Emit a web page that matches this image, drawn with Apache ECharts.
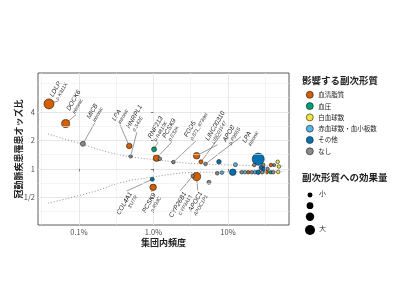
<!DOCTYPE html>
<html>
<head>
<meta charset="utf-8">
<script src="https://cdn.jsdelivr.net/npm/echarts@6/dist/echarts.min.js"></script>
<style>html,body{margin:0;padding:0;background:#fff}#chart{width:400px;height:300px}</style>
</head>
<body>
<div id="chart"></div>
<script>
var chart = echarts.init(document.getElementById('chart'));

var groups = ['血清脂質', '血圧', '白血球数', '赤血球数・血小板数', 'その他', 'なし'];
var groupColors = ['#D55E00', '#009E73', '#F0E442', '#56B4E9', '#0072B2', '#8a8a8a'];

// 集団内頻度(%), オッズ比, 副次形質への効果量(0-1), 影響する副次形質
var freq = [0.0396, 0.0663, 0.113, 0.473, 0.494, 1.02, 1.10, 1.22, 1.85, 3.8, 4.34, 5.0,
    7.57, 12.6, 22.5, 25.5, 28.3, 30.0, 37.8, 41.7, 46.5, 48.4, 30.5, 34.0,
    7.18, 8.3, 11.6, 15.3, 16.9, 18.7, 20.8, 23.0, 25.5, 28.9, 33.1, 37.4, 40.5, 47.3,
    5.56, 0.964, 0.99, 3.36, 3.8];
var odds = [4.86, 3.01, 1.84, 1.75, 1.36, 1.61, 1.30, 1.28, 1.18, 1.38, 1.19, 1.13,
    1.19, 1.11, 1.10, 1.27, 1.03, 1.10, 1.10, 1.10, 1.19, 1.06, 1.00, 1.00,
    0.90, 0.914, 0.923, 0.923, 0.923, 0.923, 0.923, 0.923, 0.923, 0.923, 0.923, 0.923, 0.923, 0.93,
    0.723, 0.778, 0.64, 0.843, 0.83];
var effect = [0.78, 0.56, 0.22, 0.28, 0.06, 0.22, 0.39, 0.06, 0.06, 0.39, 0.11, 0.06,
    0.17, 0.11, 0.06, 1.0, 0.22, 0.06, 0.06, 0.0, 0.06, 0.06, 0.11, 0.06,
    0.06, 0.06, 0.39, 0.06, 0.06, 0.06, 0.06, 0.06, 0.17, 0.06, 0.06, 0.06, 0.06, 0.06,
    0.11, 0.11, 0.39, 0.06, 0.56];
var group = [0, 0, 5, 0, 5, 1, 0, 5, 5, 0, 0, 5,
    4, 3, 5, 4, 4, 5, 0, 5, 2, 2, 4, 5,
    5, 3, 4, 5, 3, 0, 5, 3, 4, 5, 0, 1, 5, 2,
    5, 4, 0, 5, 0];
var gene = ['LDLR', 'DOCK6', 'MICB', 'LPA', 'HNRPL1', 'RNF213', 'PCSK9', '', 'FGD5', 'LINC00310', 'APOB', 'LPA'];
var variant = ['p.K811X', 'intronic', 'intronic', 'intronic', 'p.S42E', 'p.R4810K', 'p.E32K', '', 'p.871_873del', 'LINC01547', 'p.P955S', 'intronic'];
gene[39] = 'COL4A1'; variant[39] = "3'UTR";
gene[40] = 'PCSK9'; variant[40] = 'p.R93C';
gene[41] = 'CYP26B1'; variant[41] = 'CYP3A13';
gene[42] = 'APOC1'; variant[42] = 'APOC1P1';

// 有意水準の目安 (点線)
var upperFreq = [0.0384, 0.106, 0.25, 0.485, 1.10, 4.2, 58];
var upperOdds = [2.34, 1.84, 1.50, 1.35, 1.245, 1.13, 1.075];
var lowerFreq = [0.0384, 0.156, 0.355, 0.897, 3.09, 58];
var lowerOdds = [0.435, 0.575, 0.712, 0.813, 0.914, 0.941];

var xTickFreq = [0.1, 1, 10];
var xTickText = ['0.1%', '1.0%', '10%'];
var yTickOdds = [0.5, 1, 2, 4];
var yTickText = ['1/2', '1', '2', '4'];
var xMinorFreq = [0.0316, 0.316, 3.16, 31.6];
var yMinorOdds = [0.354, 0.707, 1.414, 2.83, 5.66, 8];

var sizeLegendEffect = [0.22, 0.42, 0.6, 0.78];
var sizeLegendText = ['小', '', '', '大'];

// ラベル位置 (点からのずれ px)
var labelPlace = {
    0: [5, -6, 'up'], 1: [5, -12, 'up'], 2: [8, -24, 'up'], 3: [-13, -24, 'up'],
    4: [0, -27, 'up'], 5: [-2, -10, 'up'], 6: [10, -19, 'up'], 8: [15, -24, 'up'],
    9: [13, -14, 'up'], 10: [26, -19, 'up'], 11: [41, -20, 'up'],
    39: [-19, 15, 'down'], 40: [4, 8, 'down'], 41: [-5, 18, 'down'], 42: [7, 17, 'down']
};
var labelAngle = 60;

function dot(e) { return 3 + 9 * e; }

var lookup = {};
var series = [];
groups.forEach(function (g, gi) {
    var items = [];
    for (var i = 0; i < freq.length; i++) {
        if (group[i] !== gi) continue;
        var it = {value: [Math.log10(freq[i]), Math.log2(odds[i]), effect[i]]};
        var pl = labelPlace[i];
        if (gene[i] && pl) {
            lookup[gi + ':' + items.length] = pl;
            it.label = {
                show: true, position: 'inside', rotate: labelAngle,
                align: pl[2] == 'up' ? 'left' : 'right', verticalAlign: 'middle',
                formatter: '{g|' + gene[i] + '}\n{v|' + variant[i] + '}'
            };
            it.labelLine = {show: true};
        }
        items.push(it);
    }
    series.push({
        name: g,
        type: 'scatter',
        z: 3,
        data: items,
        symbolSize: function (v) { return dot(v[2]); },
        itemStyle: {color: groupColors[gi], borderColor: '#1a1a1a', borderWidth: 0.6, opacity: 1},
        label: {
            show: false,
            rich: {
                g: {fontSize: 6.5, fontStyle: 'italic', fontFamily: 'Liberation Sans', color: '#222', lineHeight: 7},
                v: {fontSize: 5, fontStyle: 'italic', fontFamily: 'Liberation Sans', color: '#333', lineHeight: 6}
            }
        },
        labelLine: {lineStyle: {color: '#555', width: 0.6}},
        labelLayout: function (p) {
            var pl = lookup[p.seriesIndex + ':' + p.dataIndex];
            if (!pl) return {};
            // the offset is applied in the label's rotated frame
            var t = labelAngle * Math.PI / 180;
            return {
                dx: pl[0] * Math.cos(t) - pl[1] * Math.sin(t),
                dy: pl[0] * Math.sin(t) + pl[1] * Math.cos(t)
            };
        }
    });
});

var minorLines = [];
xMinorFreq.forEach(function (f) { minorLines.push({xAxis: Math.log10(f)}); });
yMinorOdds.forEach(function (o) { minorLines.push({yAxis: Math.log2(o)}); });

series.push({
    type: 'line', z: 1, smooth: 0.4, showSymbol: false, silent: true,
    data: upperFreq.map(function (f, i) { return [Math.log10(f), Math.log2(upperOdds[i])]; }),
    lineStyle: {color: '#888', width: 0.9, type: [1, 2]},
    markLine: {
        silent: true, symbol: 'none', label: {show: false},
        lineStyle: {color: '#ececec', width: 0.6, type: 'solid'},
        data: minorLines
    }
});
series.push({
    type: 'line', z: 1, smooth: 0.4, showSymbol: false, silent: true,
    data: lowerFreq.map(function (f, i) { return [Math.log10(f), Math.log2(lowerOdds[i])]; }),
    lineStyle: {color: '#888', width: 0.9, type: [1, 2]}
});

var xTicks = xTickFreq.map(Math.log10);
var yTicks = yTickOdds.map(Math.log2);

var graphics = [];
var sizeY = [195, 205.7, 216.7, 230];
sizeLegendEffect.forEach(function (e, i) {
    graphics.push({type: 'circle', left: 310 - dot(e) / 2, top: sizeY[i] - dot(e) / 2,
        shape: {r: dot(e) / 2}, style: {fill: '#000'}});
    if (sizeLegendText[i]) {
        graphics.push({type: 'text', left: 319, top: sizeY[i] - 4,
            style: {text: sizeLegendText[i], fontSize: 7, fill: '#222', font: '7px "Noto Sans CJK JP"'}});
    }
});

var option = {
    animation: false,
    textStyle: {fontFamily: 'Noto Sans CJK JP'},
    title: [
        {text: '影響する副次形質', left: 302, top: 76, padding: 0,
            textStyle: {fontSize: 9.5, fontWeight: 'bold', color: '#222'}},
        {text: '副次形質への効果量', left: 302, top: 173, padding: 0,
            textStyle: {fontSize: 9.5, fontWeight: 'bold', color: '#222'}}
    ],
    legend: {
        data: groups, orient: 'vertical', left: 306, top: 91, padding: 0,
        itemWidth: 7, itemHeight: 7, itemGap: 3.7, icon: 'circle',
        itemStyle: {borderWidth: 0.6, borderColor: '#1a1a1a'},
        textStyle: {fontSize: 6.5, lineHeight: 7, color: '#222'}
    },
    grid: {left: 38, right: 111, top: 73, bottom: 75, show: true, borderColor: '#333', borderWidth: 0.8, backgroundColor: '#fff'},
    xAxis: {
        type: 'value', min: Math.log10(0.0282), max: Math.log10(66),
        name: '集団内頻度', nameLocation: 'middle', nameGap: 13, nameMoveOverlap: false,
        nameTextStyle: {fontSize: 9, fontWeight: 'bold', color: '#222'},
        axisLine: {show: false},
        axisTick: {show: true, length: 2.5, customValues: xTicks, lineStyle: {color: '#333', width: 0.6}},
        axisLabel: {customValues: xTicks, fontSize: 7.5, color: '#4d4d4d', margin: 3,
            formatter: function (v) {
                for (var i = 0; i < xTicks.length; i++) if (Math.abs(xTicks[i] - v) < 1e-6) return xTickText[i];
                return '';
            }},
        splitLine: {show: true, lineStyle: {color: '#e4e4e4', width: 0.9}}
    },
    yAxis: {
        type: 'value', min: Math.log2(0.256), max: Math.log2(10.3),
        name: '冠動脈疾患罹患オッズ比', nameLocation: 'middle', nameGap: 15, nameRotate: 90, nameMoveOverlap: false,
        nameTextStyle: {fontSize: 9, fontWeight: 'bold', color: '#222'},
        axisLine: {show: false},
        axisTick: {show: true, length: 2.5, customValues: yTicks, lineStyle: {color: '#333', width: 0.6}},
        axisLabel: {customValues: yTicks, fontSize: 7.5, color: '#4d4d4d', margin: 3,
            formatter: function (v) {
                for (var i = 0; i < yTicks.length; i++) if (Math.abs(yTicks[i] - v) < 1e-6) return yTickText[i];
                return '';
            }},
        splitLine: {show: true, lineStyle: {color: '#e4e4e4', width: 0.9}}
    },
    graphic: graphics,
    series: series
};

chart.setOption(option);
</script>
</body>
</html>
